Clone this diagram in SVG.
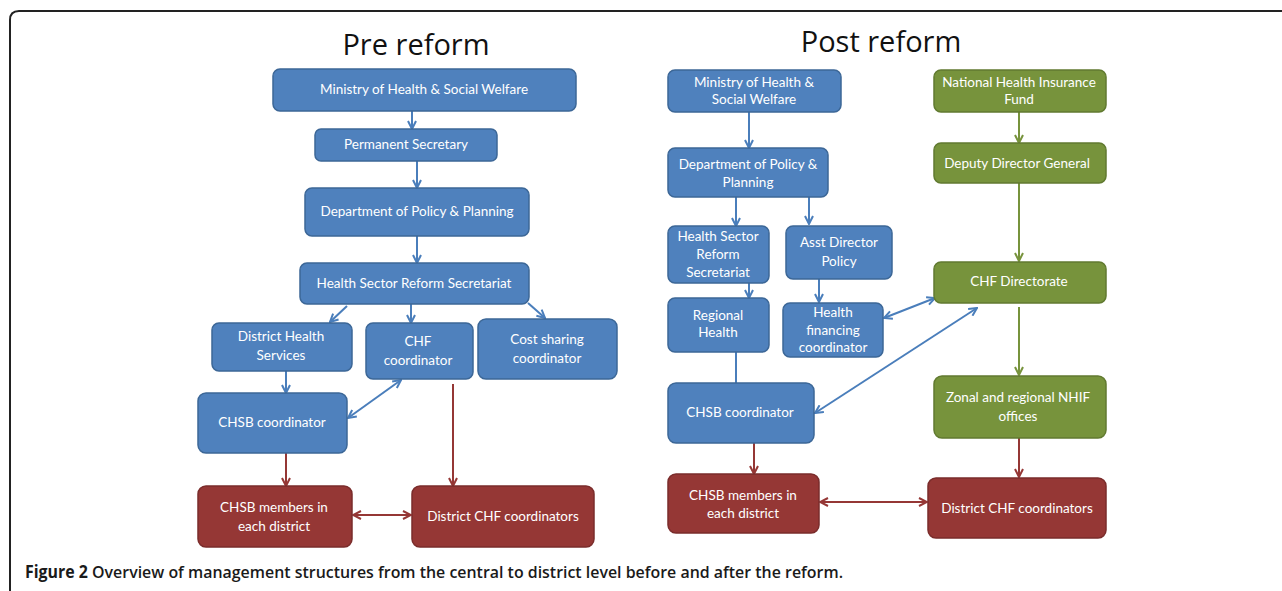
<svg xmlns="http://www.w3.org/2000/svg" width="1282" height="591" viewBox="0 0 1282 591">
<defs>
<marker id="ab" viewBox="0 0 10 10" refX="9" refY="5" markerWidth="10" markerHeight="10" markerUnits="userSpaceOnUse" orient="auto-start-reverse"><path d="M1,1 L9,5 L1,9" fill="none" stroke="#4a7ebb" stroke-width="2"/></marker>
<marker id="ag" viewBox="0 0 10 10" refX="9" refY="5" markerWidth="10" markerHeight="10" markerUnits="userSpaceOnUse" orient="auto-start-reverse"><path d="M1,1 L9,5 L1,9" fill="none" stroke="#77933c" stroke-width="2"/></marker>
<marker id="ar" viewBox="0 0 10 10" refX="9" refY="5" markerWidth="10" markerHeight="10" markerUnits="userSpaceOnUse" orient="auto-start-reverse"><path d="M1,1 L9,5 L1,9" fill="none" stroke="#953735" stroke-width="2"/></marker>
</defs>
<style>
.b rect{fill:#4f81bd;stroke:#3c6797;stroke-width:1.5}
.g rect{fill:#77933c;stroke:#617a30;stroke-width:1.5}
.r rect{fill:#953735;stroke:#7a2c2b;stroke-width:1.5}
.n text{fill:#fff;font-family:Lato,"Liberation Sans",sans-serif;font-size:13.5px;text-anchor:middle}
.t{font-family:"Open Sans","Liberation Sans",sans-serif;font-size:29px;fill:#111;text-anchor:middle}
.cb{stroke:#4a7ebb;stroke-width:2;fill:none;marker-end:url(#ab)}
.cg{stroke:#77933c;stroke-width:2;fill:none;marker-end:url(#ag)}
.cr{stroke:#953735;stroke-width:2;fill:none;marker-end:url(#ar)}
.bi{marker-start:url(#ab)}
.ri{marker-start:url(#ar)}
</style>
<rect width="1282" height="591" fill="#fff"/>
<path d="M10,591 L10,20 Q10,11 19,11 L1282,11" fill="none" stroke="#222" stroke-width="2"/>
<text class="t" x="416" y="55">Pre reform</text>
<text class="t" x="881" y="52">Post reform</text>

<g id="connectors">
<line class="cb" x1="412" y1="111" x2="412" y2="129"/>
<line class="cb" x1="417" y1="161" x2="417" y2="188"/>
<line class="cb" x1="417" y1="236" x2="417" y2="263"/>
<line class="cb" x1="347" y1="306" x2="330" y2="322"/>
<line class="cb" x1="411" y1="304" x2="411" y2="323"/>
<line class="cb" x1="528" y1="303" x2="545" y2="318"/>
<line class="cb" x1="286" y1="371" x2="286" y2="393"/>
<line class="cb bi" x1="348" y1="418" x2="401" y2="380"/>
<line class="cr" x1="453" y1="384" x2="453" y2="486"/>
<line class="cr" x1="286" y1="453" x2="286" y2="486"/>
<line class="cr ri" x1="353" y1="515" x2="411" y2="515"/>

<line class="cb" x1="749" y1="112" x2="749" y2="148"/>
<line class="cg" x1="1019" y1="112" x2="1019" y2="143"/>
<line class="cb" x1="736" y1="197" x2="736" y2="226"/>
<line class="cb" x1="809" y1="197" x2="809" y2="224"/>
<line class="cg" x1="1019" y1="183" x2="1019" y2="261"/>
<line class="cb" x1="749" y1="283" x2="749" y2="298"/>
<line class="cb" x1="819" y1="279" x2="819" y2="302"/>
<line class="cb bi" x1="884" y1="318" x2="935" y2="298"/>
<line class="cb bi" x1="815" y1="413" x2="977" y2="308"/>
<line x1="736" y1="352" x2="736" y2="383" stroke="#4a7ebb" stroke-width="2"/>
<line class="cg" x1="1019" y1="307" x2="1019" y2="375"/>
<line class="cr" x1="1019" y1="438" x2="1019" y2="477"/>
<line class="cr" x1="754" y1="443" x2="754" y2="474"/>
<line class="cr ri" x1="820" y1="502" x2="927" y2="502"/>
</g>

<g id="pre-ministry" class="n b"><rect x="273" y="69" width="303" height="42" rx="7"/><text x="424" y="94">Ministry of Health &amp; Social Welfare</text></g>
<g id="pre-permsec" class="n b"><rect x="315" y="129" width="182" height="32" rx="6"/><text x="406" y="149">Permanent Secretary</text></g>
<g id="pre-dept" class="n b"><rect x="305" y="188" width="224" height="48" rx="7"/><text x="417" y="216">Department of Policy &amp; Planning</text></g>
<g id="pre-hsrs" class="n b"><rect x="300" y="263" width="229" height="41" rx="7"/><text x="414" y="288">Health Sector Reform Secretariat</text></g>
<g id="pre-dhs" class="n b"><rect x="212" y="323" width="140" height="48" rx="7"/><text x="281" y="341">District Health</text><text x="281" y="360">Services</text></g>
<g id="pre-chf" class="n b"><rect x="366" y="323" width="107" height="56" rx="7"/><text x="418" y="346">CHF</text><text x="418" y="365">coordinator</text></g>
<g id="pre-cost" class="n b"><rect x="478" y="319" width="139" height="60" rx="8"/><text x="547" y="344">Cost sharing</text><text x="547" y="363">coordinator</text></g>
<g id="pre-chsbc" class="n b"><rect x="198" y="393" width="149" height="60" rx="8"/><text x="272" y="427">CHSB coordinator</text></g>
<g id="pre-chsbm" class="n r"><rect x="198" y="486" width="154" height="61" rx="8"/><text x="274" y="512">CHSB members in</text><text x="274" y="531">each district</text></g>
<g id="pre-dchf" class="n r"><rect x="412" y="486" width="182" height="61" rx="8"/><text x="503" y="521">District CHF coordinators</text></g>

<g id="post-ministry" class="n b"><rect x="668" y="70" width="173" height="42" rx="7"/><text x="754" y="87">Ministry of Health &amp;</text><text x="754" y="104">Social Welfare</text></g>
<g id="post-nhif" class="n g"><rect x="934" y="70" width="172" height="42" rx="7"/><text x="1019" y="87">National Health Insurance</text><text x="1019" y="104">Fund</text></g>
<g id="post-dept" class="n b"><rect x="668" y="148" width="160" height="49" rx="7"/><text x="748" y="169">Department of Policy &amp;</text><text x="748" y="187">Planning</text></g>
<g id="post-ddg" class="n g"><rect x="934" y="143" width="172" height="40" rx="7"/><text x="1017" y="168">Deputy Director  General</text></g>
<g id="post-hsrs" class="n b"><rect x="668" y="226" width="101" height="57" rx="7"/><text x="718" y="241">Health Sector</text><text x="718" y="259">Reform</text><text x="718" y="277">Secretariat</text></g>
<g id="post-asst" class="n b"><rect x="786" y="226" width="106" height="53" rx="7"/><text x="839" y="247">Asst Director</text><text x="839" y="266">Policy</text></g>
<g id="post-chfdir" class="n g"><rect x="934" y="262" width="172" height="41" rx="7"/><text x="1019" y="286">CHF Directorate</text></g>
<g id="post-regional" class="n b"><rect x="668" y="298" width="101" height="54" rx="7"/><text x="718" y="320">Regional</text><text x="718" y="337">Health</text></g>
<g id="post-hf" class="n b"><rect x="783" y="303" width="100" height="54" rx="7"/><text x="833" y="317">Health</text><text x="833" y="335">financing</text><text x="833" y="352">coordinator</text></g>
<g id="post-chsbc" class="n b"><rect x="668" y="383" width="146" height="60" rx="8"/><text x="740" y="417">CHSB coordinator</text></g>
<g id="post-zonal" class="n g"><rect x="934" y="376" width="172" height="62" rx="8"/><text x="1018" y="402">Zonal and regional NHIF</text><text x="1018" y="421">offices</text></g>
<g id="post-chsbm" class="n r"><rect x="668" y="474" width="151" height="59" rx="8"/><text x="743" y="500">CHSB members in</text><text x="743" y="518">each district</text></g>
<g id="post-dchf" class="n r"><rect x="928" y="478" width="178" height="60" rx="8"/><text x="1017" y="513">District CHF coordinators</text></g>

<text x="25" y="578" font-family="'Open Sans','Liberation Sans',sans-serif" font-size="17" font-weight="600" fill="#1a1a1a" textLength="818" lengthAdjust="spacingAndGlyphs"><tspan font-weight="700">Figure 2</tspan> Overview of management structures from the central to district level before and after the reform.</text>
</svg>
